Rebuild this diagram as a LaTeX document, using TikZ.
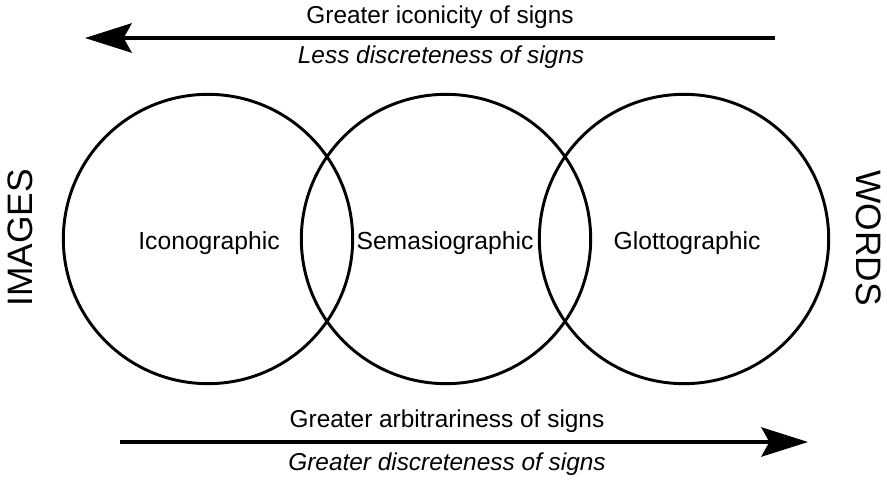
\documentclass[tikz,border=0pt]{standalone}
\usepackage{fontspec}
\setmainfont{Liberation Sans}
\usetikzlibrary{arrows.meta, positioning}
\tikzset{
    ring/.style={circle, draw=black, line width=2.2pt, minimum size=217pt, inner sep=0pt},
    ringlabel/.style={font=\fontsize{18.5}{22}\selectfont},
    sidelabel/.style={font=\fontsize{26.5}{30}\selectfont},
    arrowlabel/.style={font=\fontsize{18.3}{21}\selectfont},
    bigarrow/.style={line width=2.6pt, -{Stealth[length=35pt, width=22pt, inset=6pt]}}
}
\begin{document}
\begin{tikzpicture}[x=0.75pt, y=-0.75pt]
    \useasboundingbox (0,0) rectangle (887,481);

    % Circles
    \node[ring] (icon) at (208, 239) {};
    \node[ring] (sema) at (446, 239) {};
    \node[ring] (glot) at (684, 239) {};

    % Circle labels
    \node[ringlabel] (iconlbl) at (209, 243) {Iconographic};
    \node[ringlabel] (semalbl) at (445, 243) {Semasiographic};
    \node[ringlabel] (glotlbl) at (687, 243) {Glottographic};

    % Side labels
    \node[sidelabel, rotate=90] (images) at (20, 238) {IMAGES};
    \node[sidelabel, rotate=-90] (words) at (869, 238) {WORDS};

    % Top arrow (towards images)
    \coordinate (topstart) at (775, 38);
    \coordinate (topend) at (85, 38);
    \draw[bigarrow] (topstart) -- (topend);
    \node[arrowlabel] (iconicity) at (440, 17) {Greater iconicity of signs};
    \node[arrowlabel] (lessdisc) at (441, 57) {\itshape Less discreteness of signs};

    % Bottom arrow (towards words)
    \coordinate (botstart) at (120, 442);
    \coordinate (botend) at (808, 442);
    \draw[bigarrow] (botstart) -- (botend);
    \node[arrowlabel] (arbitrary) at (447, 421) {Greater arbitrariness of signs};
    \node[arrowlabel] (morediscr) at (447, 464) {\itshape Greater discreteness of signs};
\end{tikzpicture}
\end{document}
